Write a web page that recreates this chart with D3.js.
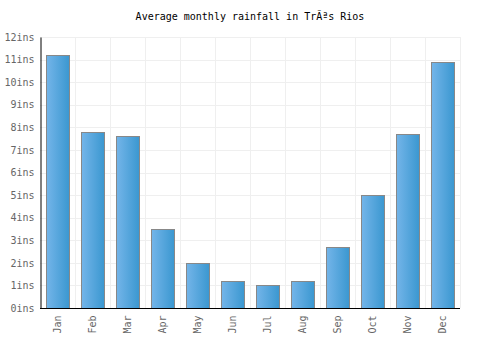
<!DOCTYPE html>
<html>
<head>
<meta charset="utf-8">
<script src="https://cdn.jsdelivr.net/npm/d3@7"></script>
<style>
body { margin: 0; background: #fff; }
text { font-family: "DejaVu Sans Mono", monospace; }
</style>
</head>
<body>
<div class="container"></div>
<script>
const wd = 500
const ht = 350

const months = ["Jan","Feb","Mar","Apr","May","Jun","Jul","Aug","Sep","Oct","Nov","Dec"]
const rain = [11.2, 7.8, 7.6, 3.5, 2.0, 1.2, 1.0, 1.2, 2.7, 5.0, 7.7, 10.9]
const yTicks = [0,1,2,3,4,5,6,7,8,9,10,11,12]
const title = "Average monthly rainfall in TrÃªs Rios"

const m = {top: 37, right: 40, bottom: 42, left: 40}
const padOut = 0.17

const svgC = d3.select(".container")
.append("svg")
.attr("width", wd)
.attr("height", ht)

const defs = svgC.append("defs")
const grad = defs.append("linearGradient")
.attr("id", "barGrad")
.attr("x1", "0%").attr("x2", "100%")
.attr("y1", "0%").attr("y2", "0%")
grad.append("stop").attr("offset", "0%").attr("stop-color", "#74b5e9")
grad.append("stop").attr("offset", "100%").attr("stop-color", "#3a97d0")

const xScale = d3.scaleBand()
.domain(months)
.range([m.left, wd - m.right])
.paddingInner(0.34)
.paddingOuter(padOut)

const yScale = d3.scaleLinear()
.domain([0, 12])
.range([ht - m.bottom, m.top])

// grid
const grid = svgC.append("g")
grid.selectAll(".hg")
.data(yTicks)
.join("line")
.attr("x1", m.left).attr("x2", wd - m.right)
.attr("y1", d => Math.round(yScale(d)) + 0.5)
.attr("y2", d => Math.round(yScale(d)) + 0.5)
.style("stroke", "#efefef")

const step = xScale.step()
grid.selectAll(".vg")
.data(months)
.join("line")
.attr("x1", d => Math.round(xScale(d) - step * padOut + step) + 0.5)
.attr("x2", d => Math.round(xScale(d) - step * padOut + step) + 0.5)
.attr("y1", m.top)
.attr("y2", ht - m.bottom)
.style("stroke", "#efefef")

// bars
svgC.append("g")
.selectAll("rect")
.data(rain)
.join("rect")
.attr("x", (d, i) => Math.round(xScale(months[i])) + 0.5)
.attr("y", d => Math.round(yScale(d)) + 0.5)
.attr("width", Math.round(xScale.bandwidth()))
.attr("height", d => Math.round(yScale(0)) - Math.round(yScale(d)))
.attr("fill", "url(#barGrad)")
.style("stroke", "#888")
.style("stroke-width", "1px")

// y axis
const yAxis = svgC.append("g")
.attr("transform", `translate(${m.left + 0.5},0)`)
.call(d3.axisLeft(yScale).tickValues(yTicks).tickSize(0).tickPadding(6).tickFormat(d => d + "ins"))
yAxis.select(".domain").style("stroke", "#000")
yAxis.selectAll("text")
.attr("fill", "#666")
.style("font-size", "10px")
.style("font-family", "DejaVu Sans Mono, monospace")

// x axis
const xAxis = svgC.append("g")
.attr("transform", `translate(0,${Math.round(yScale(0)) + 0.5})`)
.call(d3.axisBottom(xScale).tickSize(0))
xAxis.select(".domain").style("stroke", "#000").attr("d", `M${m.left},0H${wd - m.right}`)
xAxis.selectAll("text")
.attr("fill", "#666")
.style("font-size", "10px")
.style("font-family", "DejaVu Sans Mono, monospace")
.attr("transform", "rotate(-90)")
.attr("text-anchor", "end")
.attr("x", -7)
.attr("y", 0)
.attr("dx", 0)
.attr("dy", "0.35em")

// title
svgC.append("text")
.attr("x", wd / 2)
.attr("y", 20)
.attr("text-anchor", "middle")
.style("font-size", "10px")
.attr("fill", "#000")
.text(title)
</script>
</body>
</html>
